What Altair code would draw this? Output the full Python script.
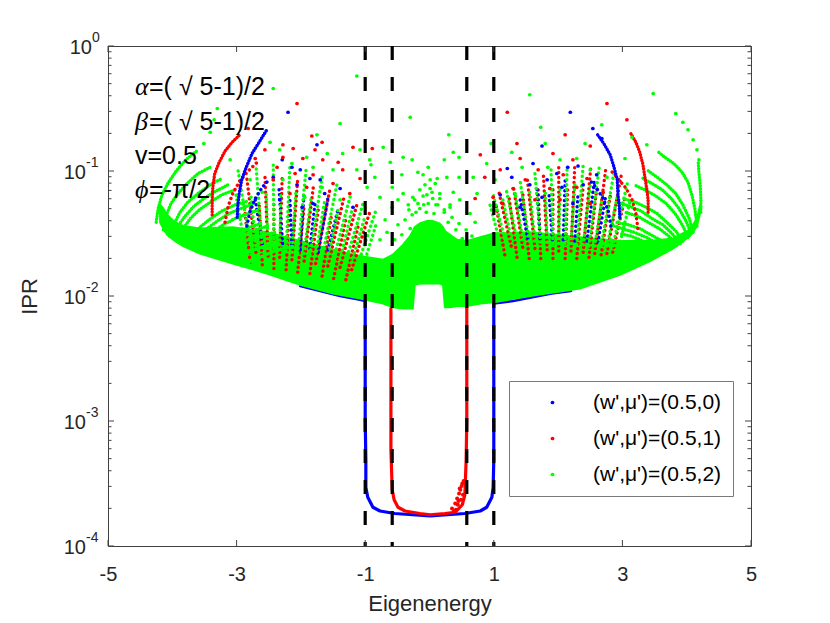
import altair as alt
import numpy as np
import pandas as pd

BLUE, RED, GREEN = "#0000ff", "#ff0000", "#00ff00"
AXIS_COLOR = "#404040"
TEXT_COLOR = "#262626"
FONT = "Liberation Sans"
SERIES = ["(w',μ')=(0.5,0)", "(w',μ')=(0.5,1)", "(w',μ')=(0.5,2)"]

# ---------------- axes / guides ----------------
X_TICKS = [-5, -3, -1, 1, 3, 5]
Y_MAJOR = [1e-4, 1e-3, 1e-2, 1e-1, 1.0]
Y_MINOR = [2e-4, 3e-4, 4e-4, 5e-4, 6e-4, 7e-4, 8e-4, 9e-4,
           2e-3, 3e-3, 4e-3, 5e-3, 6e-3, 7e-3, 8e-3, 9e-3,
           2e-2, 3e-2, 4e-2, 5e-2, 6e-2, 7e-2, 8e-2, 9e-2,
           0.2, 0.3, 0.4, 0.5, 0.6, 0.7, 0.8, 0.9]
Y_LABEL_NEG = [1e-4, 1e-3, 1e-2, 1e-1]
Y_LABEL_NEG_EXP = ["-4", "-3", "-2", "-1"]
Y_LABEL_ZERO = [1.0]
Y_LABEL_ZERO_EXP = ["0"]
DASHED_E = [-1.0, -0.58, 0.58, 1.0]

# ---------------- annotations (energy, log10 IPR) ----------------
ANNOT_GREEK = ["α", "β", "ϕ"]
ANNOT_REST = ["=( √ 5-1)/2", "=( √ 5-1)/2", "=-π/2"]
ANNOT_GREEK_LOG = [-0.33, -0.61, -1.15]
ANNOT_PLAIN = ["v=0.5"]
ANNOT_PLAIN_LOG = [-0.88]
ANNOT_E = -4.58

# ---------------- data (E, log10 IPR) ----------------
BLUE_U_E = [-1.00, -1.00, -1.00, -1.00, -0.99, -0.99, -0.96, -0.88, -0.77, -0.54, 0.01,
            0.55, 0.79, 0.89, 0.97, 0.99, 1.00, 1.00, 1.00, 1.00, 1.00]
BLUE_U_LOG = [-2.03, -2.35, -2.67, -2.99, -3.31, -3.53, -3.61, -3.69, -3.72, -3.74, -3.76,
              -3.74, -3.72, -3.69, -3.61, -3.53, -3.31, -2.99, -2.67, -2.35, -2.05]
BLUE_EDGE_E = [[-2.01, -1.70, -1.39, -1.08, -1.00], [1.00, 1.30, 1.60, 1.90, 2.20]]
BLUE_EDGE_LOG = [[-1.92, -1.96, -2.00, -2.03, -2.04], [-2.06, -2.04, -2.01, -1.98, -1.96]]

RED_U_E = [-0.60, -0.60, -0.60, -0.60, -0.58, -0.55, -0.49, -0.38, -0.15, 0.01, 0.24,
           0.40, 0.51, 0.55, 0.57, 0.58, 0.58, 0.58, 0.58]
RED_U_LOG = [-2.10, -2.43, -2.83, -3.23, -3.55, -3.63, -3.69, -3.72, -3.74, -3.75, -3.74,
             -3.73, -3.67, -3.59, -3.31, -2.99, -2.67, -2.35, -2.08]

RED_NOISE_E = [0.35, 0.40, 0.43, 0.46, 0.47, 0.51, 0.44, 0.49, 0.52, 0.41, 0.48, 0.50, 0.38, 0.45, 0.53]
RED_NOISE_LOG = [-3.70, -3.66, -3.62, -3.58, -3.54, -3.50, -3.67, -3.63, -3.59, -3.71, -3.55,
                 -3.52, -3.72, -3.64, -3.48]

# dense green band (lower / upper edge)
BAND_E = [-4.19, -4.14, -4.08, -3.96, -3.83, -3.57, -3.06, -2.53, -2.01, -1.50, -1.08, -0.72,
          -0.57, -0.41, -0.30, -0.26, -0.23, -0.15, -0.04, 0.05, 0.16, 0.21, 0.24, 0.32,
          0.43, 0.58, 0.79, 1.00, 1.56, 2.34, 2.96, 3.43, 3.79, 4.05, 4.16, 4.21]
BAND_LO = [-1.41, -1.46, -1.51, -1.56, -1.60, -1.66, -1.74, -1.82, -1.91, -1.98, -2.02, -2.06,
           -2.09, -2.10, -2.10, -2.10, -1.91, -1.90, -1.90, -1.90, -1.90, -1.91, -2.09, -2.09,
           -2.08, -2.08, -2.06, -2.05, -2.00, -1.94, -1.83, -1.72, -1.62, -1.52, -1.44, -1.33]
BAND_HI = [-1.27, -1.30, -1.35, -1.41, -1.44, -1.46, -1.45, -1.49, -1.56, -1.63, -1.68, -1.71,
           -1.67, -1.59, -1.52, -1.48, -1.45, -1.42, -1.40, -1.40, -1.42, -1.45, -1.48, -1.51,
           -1.55, -1.56, -1.53, -1.50, -1.49, -1.53, -1.56, -1.56, -1.54, -1.47, -1.38, -1.27]

GREEN_ARCS_E = [
    [-4.25, -4.22, -4.16, -4.07, -3.94, -3.79, -3.62],
    [-4.14, -4.10, -4.02, -3.91, -3.77, -3.60, -3.41],
    [-4.04, -3.97, -3.88, -3.76, -3.60, -3.41, -3.23],
    [-3.97, -3.91, -3.80, -3.66, -3.51, -3.32, -3.13],
    [-3.91, -3.83, -3.72, -3.58, -3.41, -3.23, -3.02],
    [-3.77, -3.68, -3.55, -3.40, -3.23, -3.02, -2.82],
    [-3.69, -3.60, -3.46, -3.30, -3.12, -2.93, -2.73],
    [-3.62, -3.51, -3.37, -3.21, -3.02, -2.82, -2.64],
    [-3.44, -3.32, -3.16, -2.99, -2.81, -2.60],
    [-3.35, -3.23, -3.06, -2.88, -2.70, -2.51],
    [-3.26, -3.12, -2.96, -2.78, -2.57, -2.39],
    [-3.06, -2.90, -2.73, -2.54, -2.34],
    [-2.85, -2.68, -2.50, -2.29, -2.09],
    [4.22, 4.22, 4.21, 4.19, 4.18],
    [4.16, 4.13, 4.08, 4.02, 3.93, 3.80, 3.66, 3.54],
    [4.10, 4.04, 3.94, 3.83, 3.69, 3.54, 3.38],
    [4.07, 3.99, 3.88, 3.76, 3.62, 3.46, 3.29],
    [4.02, 3.93, 3.82, 3.68, 3.52, 3.35, 3.18],
    [3.94, 3.83, 3.69, 3.54, 3.37, 3.20, 3.01],
    [3.90, 3.77, 3.63, 3.46, 3.29, 3.10, 2.92],
    [3.85, 3.72, 3.57, 3.40, 3.23, 3.04],
    [3.76, 3.62, 3.44, 3.27, 3.09, 2.90],
    [3.69, 3.54, 3.37, 3.18, 2.99, 2.81],
    [3.65, 3.49, 3.32, 3.13, 2.95],
    [3.54, 3.37, 3.18, 2.99, 2.81],
    [3.43, 3.24, 3.06, 2.85, 2.65],
]
GREEN_ARCS_LOG = [
    [-1.41, -1.30, -1.19, -1.10, -1.00, -0.91, -0.84],
    [-1.47, -1.36, -1.26, -1.18, -1.10, -1.02, -0.97],
    [-1.52, -1.42, -1.33, -1.25, -1.18, -1.11, -1.06],
    [-1.54, -1.44, -1.36, -1.28, -1.22, -1.16, -1.11],
    [-1.56, -1.46, -1.38, -1.31, -1.25, -1.19, -1.15],
    [-1.59, -1.51, -1.44, -1.38, -1.32, -1.27, -1.24],
    [-1.61, -1.54, -1.46, -1.40, -1.34, -1.30, -1.26],
    [-1.62, -1.55, -1.49, -1.43, -1.38, -1.34, -1.31],
    [-1.66, -1.59, -1.54, -1.49, -1.45, -1.42],
    [-1.67, -1.62, -1.56, -1.51, -1.47, -1.44],
    [-1.69, -1.63, -1.58, -1.54, -1.51, -1.49],
    [-1.72, -1.67, -1.63, -1.60, -1.58],
    [-1.74, -1.70, -1.66, -1.62, -1.60],
    [-1.33, -1.22, -1.11, -1.01, -0.93],
    [-1.44, -1.31, -1.19, -1.09, -1.01, -0.94, -0.89, -0.84],
    [-1.49, -1.38, -1.27, -1.18, -1.11, -1.05, -0.99],
    [-1.50, -1.40, -1.30, -1.22, -1.15, -1.10, -1.05],
    [-1.53, -1.43, -1.34, -1.26, -1.20, -1.15, -1.11],
    [-1.56, -1.48, -1.41, -1.34, -1.29, -1.25, -1.22],
    [-1.58, -1.50, -1.43, -1.38, -1.32, -1.28, -1.25],
    [-1.59, -1.52, -1.46, -1.41, -1.36, -1.33],
    [-1.62, -1.56, -1.51, -1.46, -1.43, -1.41],
    [-1.63, -1.58, -1.53, -1.49, -1.46, -1.43],
    [-1.65, -1.60, -1.56, -1.52, -1.50],
    [-1.67, -1.63, -1.60, -1.57, -1.55],
    [-1.69, -1.65, -1.62, -1.59, -1.58],
]

RED_ARCS_E = [[-3.38, -3.38, -3.37, -3.34, -3.27, -3.18, -3.07, -2.95],
              [3.40, 3.40, 3.38, 3.35, 3.32, 3.27, 3.21, 3.13]]
RED_ARCS_LOG = [[-1.35, -1.23, -1.13, -1.02, -0.93, -0.84, -0.77, -0.71],
                [-1.33, -1.23, -1.15, -1.05, -0.95, -0.85, -0.77, -0.70]]
BLUE_ARCS_E = [[-2.99, -2.98, -2.96, -2.92, -2.85, -2.76, -2.65, -2.53],
               [2.96, 2.95, 2.93, 2.92, 2.87, 2.81, 2.71, 2.60]]
BLUE_ARCS_LOG = [[-1.37, -1.27, -1.18, -1.07, -0.97, -0.86, -0.77, -0.67],
                 [-1.37, -1.27, -1.18, -1.07, -0.97, -0.87, -0.78, -0.70]]
RED_ARCS2_E = [[-3.18, -3.13, -3.06, -2.95, -2.82, -2.68], [3.24, 3.21, 3.15, 3.06, 2.93, 2.81]]
RED_ARCS2_LOG = [[-1.41, -1.28, -1.18, -1.08, -1.00, -0.93], [-1.46, -1.34, -1.23, -1.14, -1.06, -0.99]]
BLUE_ARCS2_E = [[-2.84, -2.79, -2.71, -2.60, -2.48], [2.82, 2.78, 2.70, 2.59, 2.47]]
BLUE_ARCS2_LOG = [[-1.44, -1.32, -1.22, -1.13, -1.06], [-1.44, -1.32, -1.22, -1.13, -1.06]]

GREEN_STREAKS_E = [[-2.79, -2.98], [-2.60, -2.70], [-2.42, -2.43], [-2.23, -2.17], [-2.05, -1.92],
                   [-1.86, -1.67], [-1.67, -1.44], [-1.49, -1.22], [-1.30, -1.02], [-1.11, -0.83],
                   [1.17, 0.99], [1.36, 1.19], [1.55, 1.41], [1.73, 1.64], [1.92, 1.89],
                   [2.11, 2.14], [2.29, 2.39], [2.48, 2.64], [2.67, 2.87], [2.85, 3.09],
                   [-2.88, -3.01], [-2.70, -2.78], [-2.51, -2.54], [-2.33, -2.31], [-2.14, -2.08],
                   [-1.95, -1.84], [-1.77, -1.63], [-1.58, -1.41], [-1.39, -1.21], [-1.21, -1.00],
                   [-1.02, -0.82],
                   [1.08, 0.94], [1.27, 1.14], [1.45, 1.34], [1.64, 1.56], [1.83, 1.80],
                   [2.01, 2.03], [2.20, 2.26], [2.39, 2.50], [2.57, 2.71], [2.76, 2.93], [2.95, 3.13]]
GREEN_STREAKS_LOG = [[-1.58, -0.99], [-1.61, -0.95], [-1.62, -0.94], [-1.64, -0.95], [-1.66, -0.99],
                     [-1.67, -1.05], [-1.69, -1.11], [-1.70, -1.18], [-1.72, -1.24], [-1.74, -1.31],
                     [-1.54, -1.19], [-1.55, -1.14], [-1.56, -1.08], [-1.57, -1.02], [-1.58, -0.98],
                     [-1.58, -0.96], [-1.59, -0.95], [-1.60, -0.97], [-1.60, -1.01], [-1.60, -1.07],
                     [-1.58, -1.19], [-1.60, -1.18], [-1.62, -1.17], [-1.63, -1.17], [-1.65, -1.18],
                     [-1.66, -1.21], [-1.68, -1.24], [-1.70, -1.28], [-1.71, -1.32], [-1.73, -1.36],
                     [-1.74, -1.41],
                     [-1.54, -1.27], [-1.54, -1.23], [-1.55, -1.20], [-1.56, -1.17], [-1.57, -1.14],
                     [-1.58, -1.12], [-1.58, -1.11], [-1.59, -1.12], [-1.60, -1.14], [-1.60, -1.18], [-1.60, -1.22]]
RED_STREAKS_E = [[-2.70, -2.84], [-2.51, -2.56], [-2.33, -2.29], [-2.14, -2.05], [-1.95, -1.80],
                 [-1.77, -1.55], [-1.58, -1.33], [-1.39, -1.13], [-1.21, -0.93],
                 [1.27, 1.08], [1.45, 1.30], [1.64, 1.52], [1.83, 1.77], [2.01, 2.01],
                 [2.20, 2.26], [2.39, 2.51], [2.57, 2.74], [2.76, 2.98],
                 [-2.79, -2.88], [-2.60, -2.65], [-2.42, -2.42], [-2.23, -2.18], [-2.05, -1.95],
                 [-1.86, -1.73], [-1.67, -1.52], [-1.49, -1.30], [-1.30, -1.10],
                 [1.17, 1.03], [1.36, 1.24], [1.55, 1.45], [1.73, 1.69], [1.92, 1.92],
                 [2.11, 2.15], [2.29, 2.39], [2.48, 2.60], [2.67, 2.82], [2.85, 3.04]]
RED_STREAKS_LOG = [[-1.65, -1.06], [-1.68, -1.03], [-1.69, -1.03], [-1.71, -1.06], [-1.72, -1.10],
                   [-1.74, -1.15], [-1.76, -1.21], [-1.77, -1.27], [-1.79, -1.33],
                   [-1.60, -1.17], [-1.61, -1.11], [-1.62, -1.06], [-1.63, -1.01], [-1.64, -0.97],
                   [-1.64, -0.95], [-1.65, -0.96], [-1.66, -0.99], [-1.66, -1.04],
                   [-1.73, -1.27], [-1.75, -1.26], [-1.78, -1.25], [-1.79, -1.26], [-1.81, -1.28],
                   [-1.82, -1.31], [-1.84, -1.34], [-1.86, -1.38], [-1.87, -1.42],
                   [-1.67, -1.26], [-1.69, -1.22], [-1.70, -1.18], [-1.70, -1.15], [-1.70, -1.13],
                   [-1.70, -1.12], [-1.70, -1.12], [-1.69, -1.14], [-1.67, -1.17], [-1.65, -1.21]]
BLUE_STREAKS_E = [[-2.28, -2.34], [-2.01, -1.95], [-1.73, -1.58], [1.72, 1.67], [2.08, 2.11], [2.45, 2.56],
                  [-2.14, -2.17], [-1.86, -1.78], [-1.58, -1.42], [-2.60, -2.71],
                  [1.91, 1.86], [2.26, 2.31], [2.62, 2.74], [1.53, 1.41]]
BLUE_STREAKS_LOG = [[-1.62, -1.14], [-1.63, -1.17], [-1.65, -1.22], [-1.54, -1.11], [-1.55, -1.07], [-1.56, -1.09],
                    [-1.59, -1.23], [-1.62, -1.26], [-1.63, -1.30], [-1.58, -1.23],
                    [-1.55, -1.19], [-1.56, -1.18], [-1.57, -1.20], [-1.54, -1.23]]

GREEN_DOTS_E = [-3.51, -3.41, -3.35, -3.30, -2.43, -1.39, -1.75, -2.48, -2.33, -1.91, -1.59, -1.35,
                -1.08, -0.93, -2.14, -1.81, -1.50, -1.13, -2.28, -1.67, -1.94, -1.39, -3.10, -2.79,
                -2.60, -1.13, -0.30, -0.72,
                0.30, -0.41, -0.27, 0.37, 0.46, 0.23, -0.02, -0.18, -0.10, 0.12, -0.43, -0.61,
                -0.91, -0.85, 0.27, 0.46, 0.68, 0.96, -0.41, -0.26, 0.16, 0.37, -0.58, -0.58,
                -0.49, 0.47, 0.74, 0.32, -0.77, -0.97, 0.63, -0.15, -0.07, 0.01, 0.09, -0.04,
                0.05, -0.18, 0.13, -0.09, -0.21, 0.23, -0.32, 0.01,
                -0.49, -0.38, -0.27, -0.15, -0.02, 0.10, 0.23, 0.35, 0.46, 0.57, -0.43, -0.30,
                -0.05, 0.07, 0.29, 0.41, 0.51, -0.54, -0.23, 0.16, -0.10, 0.04, -0.33, 0.32,
                -0.66, 0.66, -0.77, 0.75, -0.69, 0.71,
                1.56, 3.48, 3.83, 3.94, 4.02, 4.10, 4.16, 4.19, 1.73, 2.42, 2.68, 3.15, 3.38,
                1.28, 1.80, 2.29, 1.84, 1.44, 3.04, 2.03, 2.50, 2.76, 0.89, 1.02, 1.33]
GREEN_DOTS_LOG = [-0.78, -0.69, -0.59, -0.50, -0.34, -0.62, -0.71, -0.77, -0.83, -0.89, -0.86, -0.86,
                  -0.83, -0.91, -0.94, -0.97, -0.99, -0.99, -1.07, -1.13, -1.21, -1.23, -0.91, -1.07,
                  -1.17, -0.24, -0.57, -0.81,
                  -0.71, -0.89, -0.91, -0.85, -0.89, -0.91, -0.97, -1.01, -1.03, -1.06, -1.03, -0.93,
                  -0.95, -1.05, -1.05, -1.05, -1.05, -0.78, -1.18, -1.21, -1.18, -1.17, -1.13, -1.29,
                  -1.23, -1.23, -1.18, -1.29, -1.21, -1.13, -1.34, -1.15, -1.11, -1.14, -1.10, -1.19,
                  -1.22, -1.26, -1.27, -1.27, -1.33, -1.33, -1.31, -1.07,
                  -1.43, -1.39, -1.35, -1.30, -1.26, -1.27, -1.31, -1.37, -1.42, -1.47, -1.51, -1.46,
                  -1.33, -1.34, -1.41, -1.47, -1.54, -1.55, -1.23, -1.22, -1.20, -1.17, -1.27, -1.27,
                  -1.49, -1.52, -1.55, -1.57, -1.39, -1.41,
                  -0.39, -0.38, -0.54, -0.61, -0.67, -0.75, -0.83, -0.91, -0.65, -0.78, -0.63, -0.73, -0.79,
                  -0.85, -0.78, -0.90, -0.97, -0.97, -0.90, -0.91, -0.99, -1.05, -0.94, -1.07, -1.18]

RED_DOTS_E = [-2.06, -1.83, -1.67, -2.12, -1.78, -1.19, -2.28, -1.97, -1.66, -1.42, -2.56, -2.71,
              -2.37, -1.35, -1.08, -2.09, -1.81, -2.43, -1.91, -1.50, -2.17, -1.24, -0.89, -2.82, -2.28,
              1.21, 1.36, 2.11, 2.50, 1.92, 1.41, 2.23, 1.69, 2.08, 2.45, 1.49, 1.10, 1.30, 1.87,
              2.29, 2.70, 0.86, 1.14, 1.64, 2.03, 2.50, 0.99, 0.79, 0.71, 2.76, 3.07]
RED_DOTS_LOG = [-0.46, -0.72, -0.77, -0.82, -0.83, -0.81, -0.89, -0.90, -0.91, -0.93, -0.83, -0.90,
                -0.97, -0.99, -1.06, -1.02, -1.03, -1.07, -1.13, -1.10, -1.18, -1.18, -0.82, -0.66, -0.79,
                -0.53, -0.78, -0.71, -0.80, -0.86, -0.90, -0.91, -0.99, -1.03, -1.06, -1.07, -0.99, -1.14, -1.14,
                -1.13, -1.17, -1.05, -1.26, -1.23, -1.23, -1.26, -1.21, -0.87, -1.22, -0.46, -0.59]

BLUE_DOTS_E = [-2.20, -2.29, -2.14, -2.01, -2.43, -1.86, -1.70, -2.06, -1.39, -1.63, -2.33, -1.98,
               -1.19, -1.81, -1.75,
               2.19, 2.54, 2.68, 1.75, 1.61, 2.15, 2.31, 1.21, 1.98, 2.60, 1.56, 1.83, 2.39, 1.28,
               1.10, 2.06, 1.75, 2.23, 1.41]
BLUE_DOTS_LOG = [-0.53, -0.91, -0.97, -0.99, -1.05, -1.06, -1.07, -1.11, -1.14, -1.18, -1.23, -1.29,
                 -1.29, -1.26, -0.79,
                 -0.53, -0.66, -0.74, -0.80, -0.94, -0.97, -0.96, -0.98, -1.02, -1.03, -1.11, -1.07, -1.11, -1.05,
                 -1.19, -1.13, -1.21, -1.26, -1.29]

# ---------------- helpers ----------------
W, H = 643, 500
xscale = alt.Scale(domain=[-5, 5], nice=False, zero=False)
yscale = alt.Scale(type="log", domain=[1e-4, 1], nice=False)

xaxis = alt.Axis(values=X_TICKS, title="Eigenenergy", tickSize=0, domain=False, grid=False,
                 labelExpr="datum.value < 0 ? '-' + abs(datum.value) : '' + datum.value",
                 labelFont=FONT, labelFontSize=20, labelColor=TEXT_COLOR, labelPadding=18,
                 labelFlush=False, labelOverlap=False,
                 titleFont=FONT, titleFontSize=22, titleFontWeight="normal", titleColor=TEXT_COLOR,
                 titlePadding=9)
yaxis = alt.Axis(values=Y_MAJOR, title="IPR", tickSize=0, domain=False, grid=False, labels=False,
                 titleFont=FONT, titleFontSize=22, titleFontWeight="normal", titleColor=TEXT_COLOR,
                 titlePadding=66)


def X(field="E"):
    return alt.X(f"{field}:Q", scale=xscale, axis=xaxis)


def Y(field="IPR"):
    return alt.Y(f"{field}:Q", scale=yscale, axis=yaxis)


def paths(es_list, ls_list):
    rows = []
    for k, (es, ls) in enumerate(zip(es_list, ls_list)):
        for i, (e, l) in enumerate(zip(es, ls)):
            rows.append({"arc": k, "i": i, "E": e, "IPR": 10 ** l})
    return pd.DataFrame(rows)


def path_layer(es_list, ls_list, color, width=3.0, dash=None):
    kw = dict(color=color, strokeWidth=width, strokeCap="round", strokeJoin="round")
    if dash is not None:
        kw["strokeDash"] = dash
    return alt.Chart(paths(es_list, ls_list)).mark_line(**kw).encode(
        x=X(), y=Y(), detail="arc:N", order=alt.Order("i:Q"))


# ---------------- layers ----------------
blue_edge = path_layer(BLUE_EDGE_E, BLUE_EDGE_LOG, BLUE, 2.6)
blue_u = path_layer([BLUE_U_E], [BLUE_U_LOG], BLUE, 3.2)
red_u = path_layer([RED_U_E], [RED_U_LOG], RED, 3.2)
red_noise = alt.Chart(pd.DataFrame({"E": RED_NOISE_E, "IPR": [10 ** v for v in RED_NOISE_LOG]})) \
    .mark_circle(size=16, opacity=1, color=RED).encode(x=X(), y=Y())

band_df = pd.DataFrame({"E": BAND_E, "lo": [10 ** v for v in BAND_LO], "hi": [10 ** v for v in BAND_HI]})
band = alt.Chart(band_df).mark_area(color=GREEN, opacity=1, stroke=GREEN, strokeWidth=2).encode(
    x=X(), y=Y("hi"), y2="lo:Q")

DOT = [0.1, 4.8]
DENSE = [0.1, 2.8]
red_streaks = path_layer(RED_STREAKS_E, RED_STREAKS_LOG, RED, 3.4, DOT)
blue_streaks = path_layer(BLUE_STREAKS_E, BLUE_STREAKS_LOG, BLUE, 3.4, DOT)
green_streaks = path_layer(GREEN_STREAKS_E, GREEN_STREAKS_LOG, GREEN, 3.4, DOT)
green_arcs = path_layer(GREEN_ARCS_E, GREEN_ARCS_LOG, GREEN, 3.4, DENSE)
red_arcs2 = path_layer(RED_ARCS2_E, RED_ARCS2_LOG, RED, 3.4, DOT)
blue_arcs2 = path_layer(BLUE_ARCS2_E, BLUE_ARCS2_LOG, BLUE, 3.4, DOT)
red_arcs = path_layer(RED_ARCS_E, RED_ARCS_LOG, RED, 3.4, DENSE)
blue_arcs = path_layer(BLUE_ARCS_E, BLUE_ARCS_LOG, BLUE, 3.4, DENSE)

dots_df = pd.concat([
    pd.DataFrame({"series": SERIES[0], "E": BLUE_DOTS_E, "IPR": [10 ** v for v in BLUE_DOTS_LOG]}),
    pd.DataFrame({"series": SERIES[1], "E": RED_DOTS_E, "IPR": [10 ** v for v in RED_DOTS_LOG]}),
    pd.DataFrame({"series": SERIES[2], "E": GREEN_DOTS_E, "IPR": [10 ** v for v in GREEN_DOTS_LOG]}),
], ignore_index=True)

legend = alt.Legend(title=None, orient="none", legendX=401, legendY=335, padding=11,
                    symbolType="circle", symbolSize=14, symbolOffset=22, labelOffset=30,
                    labelFont=FONT, labelFontSize=21, labelColor="#000000", labelLimit=400,
                    rowPadding=14, strokeColor="#7a7a7a", fillColor="#ffffff", cornerRadius=0)
dots = alt.Chart(dots_df).mark_circle(size=14, opacity=1).encode(
    x=X(), y=Y(),
    color=alt.Color("series:N", scale=alt.Scale(domain=SERIES, range=[BLUE, RED, GREEN]),
                    legend=legend, sort=SERIES))

dashed = alt.Chart(pd.DataFrame({"E": DASHED_E})).mark_rule(
    color="black", strokeWidth=3.2, strokeDash=[14, 17]).encode(x=X())


# inward ticks (MATLAB style)
def y_ticks(values, length):
    df = pd.DataFrame({"IPR": values})
    left = alt.Chart(df).mark_rule(color=AXIS_COLOR, strokeWidth=1).encode(
        y=Y(), x=alt.value(0), x2=alt.value(length))
    right = alt.Chart(df).mark_rule(color=AXIS_COLOR, strokeWidth=1).encode(
        y=Y(), x=alt.value(W), x2=alt.value(W - length))
    return [left, right]


xt_df = pd.DataFrame({"E": X_TICKS})
x_ticks = [
    alt.Chart(xt_df).mark_rule(color=AXIS_COLOR, strokeWidth=1).encode(x=X(), y=alt.value(H), y2=alt.value(H - 6)),
    alt.Chart(xt_df).mark_rule(color=AXIS_COLOR, strokeWidth=1).encode(x=X(), y=alt.value(0), y2=alt.value(6)),
]


# y tick labels "10" with superscript exponent
def ylabel_layers(values, exps, edge):
    df = pd.DataFrame({"IPR": values, "exp": exps, "base": ["10"] * len(values)})
    base = alt.Chart(df).mark_text(align="right", baseline="middle", font=FONT, fontSize=20,
                                   color=TEXT_COLOR, dy=2).encode(
        y=Y(), x=alt.value(edge), text="base:N")
    sup = alt.Chart(df).mark_text(align="left", baseline="middle", font=FONT, fontSize=14,
                                  color=TEXT_COLOR, dy=-8).encode(
        y=Y(), x=alt.value(edge), text="exp:N")
    return [base, sup]


ylabels = ylabel_layers(Y_LABEL_NEG, Y_LABEL_NEG_EXP, -22) + ylabel_layers(Y_LABEL_ZERO, Y_LABEL_ZERO_EXP, -16)

greek = alt.Chart(pd.DataFrame({"E": [ANNOT_E] * 3, "IPR": [10 ** v for v in ANNOT_GREEK_LOG], "t": ANNOT_GREEK})) \
    .mark_text(align="left", baseline="middle", font="Liberation Serif", fontStyle="italic",
               fontSize=26, color="#000000").encode(x=X(), y=Y(), text="t:N")
rest = alt.Chart(pd.DataFrame({"E": [ANNOT_E] * 3, "IPR": [10 ** v for v in ANNOT_GREEK_LOG], "t": ANNOT_REST})) \
    .mark_text(align="left", baseline="middle", font=FONT, fontSize=25, dx=14,
               color="#000000").encode(x=X(), y=Y(), text="t:N")
plain = alt.Chart(pd.DataFrame({"E": [ANNOT_E], "IPR": [10 ** v for v in ANNOT_PLAIN_LOG], "t": ANNOT_PLAIN})) \
    .mark_text(align="left", baseline="middle", font=FONT, fontSize=25,
               color="#000000").encode(x=X(), y=Y(), text="t:N")

layers = [blue_edge, blue_u, red_u, red_noise, band, red_streaks, blue_streaks, green_streaks,
          green_arcs, red_arcs2, blue_arcs2, red_arcs, blue_arcs, dots, dashed]
layers += y_ticks(Y_MAJOR, 6) + y_ticks(Y_MINOR, 3.5) + x_ticks + ylabels
layers += [greek, rest, plain]

chart = alt.layer(*layers).properties(
    width=W, height=H,
    autosize=alt.AutoSizeParams(type="none"),
    padding={"left": 100, "top": 38, "right": 71, "bottom": 75},
    background="white",
).configure_view(stroke=AXIS_COLOR, strokeWidth=1)

chart.save("out.html", embed_options={"renderer": "svg", "actions": False})
